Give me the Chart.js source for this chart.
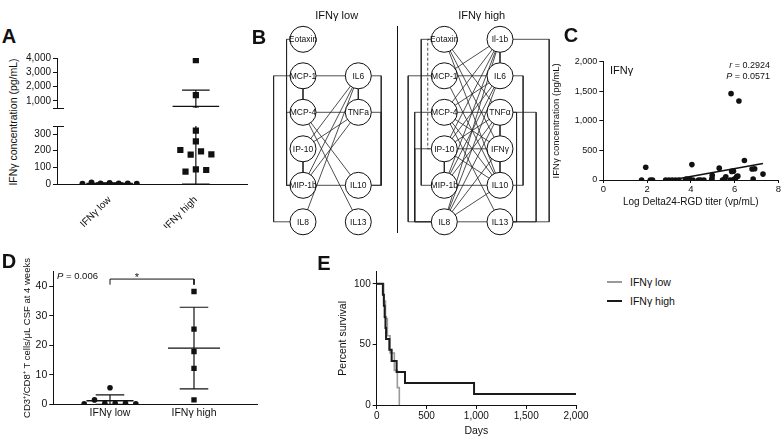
<!DOCTYPE html>
<html><head><meta charset="utf-8">
<script src="https://cdn.jsdelivr.net/npm/chart.js@4.4.1/dist/chart.umd.min.js"></script>
<style>
body{margin:0;width:784px;height:440px;background:#fff;position:relative;overflow:hidden;font-family:'Liberation Sans',Arial,sans-serif;color:#111}
canvas{position:absolute}
.t{position:absolute;white-space:nowrap;line-height:1}
.sw{position:absolute;height:2px;width:15px}
</style></head><body>
<script>
/* ─── DATA ─────────────────────────────────────────── */
const groups=['IFNγ low','IFNγ high'];

// A – IFNγ concentration (pg/mL), in left-to-right plotting order
const aLow=[2,9,3,6,3,3,2];
const aHigh=[3850,1400,320,256,204,176,196,178,74,88,84];
const aTopTicks=[1000,2000,3000,4000];
const aBotTicks=[0,100,200,300];

// B – correlation networks (column lists, row order top→bottom)
const lowLeft=['Eotaxin','MCP-1','MCP-4','IP-10','MIP-1b','IL8'];
const lowRight=[null,'IL6','TNFa',null,'IL10','IL13'];
const lowEdges=[['MCP-1','MCP-4'],['IP-10','MIP-1b'],['IL6','TNFa'],['MCP-1','IL6'],['MCP-4','TNFa'],['MIP-1b','IL10'],
  ['IP-10','IL6'],['IP-10','TNFa'],['MIP-1b','IL6'],['MIP-1b','TNFa'],['IL8','IL6'],['MCP-4','IL10'],['MCP-4','IL13']];
const lowLoops=[['Eotaxin','MIP-1b',1],['MCP-4','MIP-1b',1],['MCP-1','IL8',3],['IL6','IL10',2],['TNFa','IL10',2]];
const highLeft=['Eotaxin','MCP-1','MCP-4','IP-10','MIP-1b','IL8'];
const highRight=['Il-1b','IL6','TNFα','IFNγ','IL10','IL13'];
const highEdges=[['Il-1b','IL6'],['TNFα','IFNγ'],['IFNγ','IL10'],['IP-10','MIP-1b'],
  ['MCP-1','IL6'],['MCP-4','TNFα'],['IP-10','IFNγ'],['MIP-1b','IL10'],['IL8','IL13'],
  ['Il-1b','MCP-1'],['Il-1b','MCP-4'],['Il-1b','IP-10'],['Il-1b','MIP-1b'],['Il-1b','IL8'],
  ['Eotaxin','TNFα'],['Eotaxin','IFNγ'],['Eotaxin','IL10'],['MCP-1','IL10'],
  ['MCP-4','IL6'],['MCP-4','IFNγ'],['MCP-4','IL10'],['MCP-4','IL13'],
  ['IP-10','IL6'],['IP-10','TNFα'],['IP-10','IL10'],['MIP-1b','IL6'],['MIP-1b','TNFα'],
  ['IL8','IL6'],['IL8','TNFα'],['IL8','IFNγ'],['IL8','IL10']];
const highLoops=[['Eotaxin','IP-10',1,'dash'],['Eotaxin','MIP-1b',2],['MCP-4','IL8',3],['IP-10','IL8',3],['MCP-1','IL8',4],
  ['TNFα','IL13',1],['IL6','IL10',2],['TNFα','IL13',4],['Il-1b','IL13',6]];

// C – log titer vs IFNγ
const cTiter=[1.75,1.94,2.15,2.25,2.85,3.0,3.15,3.3,3.45,3.75,3.8,3.9,3.95,4.05,4.1,4.35,4.45,4.6,4.95,4.97,
  4.98,5.3,5.45,5.55,5.6,5.8,5.84,5.87,5.95,5.97,6.05,6.1,6.15,6.2,6.45,6.8,6.85,6.92,7.3];
const cIfng=[0,215,0,0,0,0,0,0,0,0,15,0,10,260,0,0,0,0,0,30,
  80,200,0,20,55,0,1460,145,150,10,30,60,65,1335,330,185,15,190,100];
const cFitX=[3.1,7.3];
const cFitY=[0,280];

// D – CD3+/CD8+ T cells/µL CSF at 4 weeks
const dLow=[0.2,1.5,0.3,5.6,0.3,0.3,0.2];
const dHigh=[38.3,25.5,17.9,12.2,1.5];
const dBracket=42.5;

// E – Kaplan–Meier
const eLowDays=[0,70,88,107,134,177,207,227];
const eLowSurv=[100,85.7,71.4,57.1,42.9,28.6,14.3,0];
const eHighDays=[0,62,72,80,88,94,127,150,200,284,977,2000];
const eHighSurv=[100,90.9,81.8,72.7,63.6,54.5,45.5,36.4,27.3,18.2,9.1,9.1];

/* ─── HELPERS ──────────────────────────────────────── */
const INK='#111';
Chart.defaults.font.family="'Liberation Sans', Arial, sans-serif";
Chart.defaults.color=INK;

const mean=a=>a.reduce((s,v)=>s+v,0)/a.length;
const sd=a=>{const m=mean(a);return Math.sqrt(a.reduce((s,v)=>s+(v-m)**2,0)/(a.length-1));};
// spread points with similar values side by side (dot-plot layout)
function swarm(vals,c,tol,gap){
  const idx=vals.map((_,i)=>i).sort((a,b)=>vals[a]-vals[b]);
  const rows=[];let cur=[];
  idx.forEach(i=>{if(cur.length&&vals[i]-vals[cur[0]]>tol){rows.push(cur);cur=[];}cur.push(i);});
  if(cur.length)rows.push(cur);
  const out=[];
  rows.forEach(r=>{r.sort((a,b)=>a-b);r.forEach((i,k)=>out[i]={x:c+(k-(r.length-1)/2)*gap,y:vals[i]});});
  return out;
}
const seg=(pts,w,o={})=>({data:pts.map(([x,y])=>({x,y})),showLine:true,pointRadius:0,borderColor:o.color||INK,
  borderWidth:w||1.2,borderDash:o.dash||[],stepped:o.stepped||false,clip:o.clip,order:o.order??1});
const dots=(pts,style,r)=>({data:pts,pointStyle:style,pointRadius:r,backgroundColor:INK,borderWidth:0,showLine:false,order:0});
function errBars(vals,c,floor,mw,cw){
  const m=mean(vals),s=sd(vals),lo=Math.max(m-s,floor),hi=m+s;
  return [seg([[c-mw,m],[c+mw,m]],1.3),seg([[c,lo],[c,hi]],1.2),seg([[c-cw,hi],[c+cw,hi]],1.2),seg([[c-cw,lo],[c+cw,lo]],1.2)];
}
function ax(o){
  return {type:'linear',display:!o.hidden,reverse:!!o.reverse,min:o.min,max:o.max,
    afterBuildTicks:o.ticks?(s=>{s.ticks=o.ticks.map(v=>({value:v}));}):undefined,
    afterFit:o.size!=null?(s=>{if(s.isHorizontal())s.height=o.size;else s.width=o.size;}):undefined,
    border:{display:true,color:INK,width:1},
    grid:{drawOnChartArea:false,drawTicks:o.tl!==0,tickLength:o.tl??4,color:INK,lineWidth:1},
    ticks:{font:{size:o.fs??10},color:INK,padding:o.pad??2,autoSkip:false,maxRotation:o.rot??0,minRotation:o.rot??0,
      callback:o.cb||(v=>v.toLocaleString('en-US'))},
    title:{display:!!o.title,text:o.title||'',font:{size:o.tfs??10},color:INK,padding:o.tpad||{top:0,bottom:0}}};
}
function plot(box,datasets,scales,padding,plugins){
  const c=document.createElement('canvas');
  c.width=box[2];c.height=box[3];c.style.left=box[0]+'px';c.style.top=box[1]+'px';
  document.body.appendChild(c);
  return new Chart(c,{type:'scatter',data:{datasets},
    options:{responsive:false,devicePixelRatio:1,animation:false,layout:{padding},scales,
      plugins:{legend:{display:false},tooltip:{enabled:false}}},plugins:plugins||[]});
}
function txt(html,x,y,o={}){
  const d=document.createElement('div');d.className='t';d.innerHTML=html;
  d.style.left=x+'px';d.style.top=y+'px';d.style.fontSize=(o.size||10)+'px';
  if(o.bold)d.style.fontWeight='bold';
  const tx=o.anchor==='l'?'0':o.anchor==='r'?'-100%':'-50%';
  d.style.transform=`translate(${tx},-50%)`+(o.rot?' rotate(-90deg)':'');
  document.body.appendChild(d);
}

/* ─── PANEL A (broken y axis: two stacked plots) ───── */
const axisBreak={id:'axisBreak',afterDraw(ch,_,o){
  const {ctx,chartArea:a}=ch;const y=o.at==='bottom'?a.bottom:a.top;
  ctx.save();ctx.strokeStyle=INK;ctx.lineWidth=1;ctx.beginPath();ctx.moveTo(a.left-4,y+.5);ctx.lineTo(a.left+7,y+.5);ctx.stroke();ctx.restore();}};
function aSets(){
  return [dots(swarm(aLow,1,36,0.105),'circle',3),dots(swarm(aHigh,2,36,0.12),'rect',4.4),
    ...errBars(aLow,1,0,0.27,0.16),...errBars(aHigh,2,0,0.27,0.16)];
}
const aTop=plot([20,50,232,66],aSets(),
  {x:ax({hidden:true,min:0.39,max:2.6}),y:ax({min:500,max:4000,ticks:aTopTicks,size:37})},
  {left:0,top:6.7,right:2,bottom:1},[axisBreak]);
aTop.options.plugins.axisBreak={at:'bottom'};aTop.update();
const aBot=plot([20,118,232,110],aSets(),
  {x:ax({min:0.39,max:2.6,ticks:[1,2],cb:v=>groups[v-1],rot:45,tl:0,pad:10,size:44,fs:10}),
   y:ax({min:0,max:348,ticks:aBotTicks,size:37})},
  {left:0,top:8,right:2,bottom:0},[axisBreak]);
aBot.options.plugins.axisBreak={at:'top'};aBot.update();

/* ─── PANEL B (networks) ───────────────────────────── */
const nodeLabels={id:'nodeLabels',afterDatasetsDraw(ch){
  const ds=ch.data.datasets[0];const meta=ch.getDatasetMeta(0);const ctx=ch.ctx;
  ctx.save();ctx.fillStyle=INK;ctx.font="8.5px 'Liberation Sans', Arial, sans-serif";ctx.textAlign='center';ctx.textBaseline='middle';
  meta.data.forEach((el,i)=>ctx.fillText(ds.names[i],el.x,el.y+.5));ctx.restore();}};
const laneOff=l=>(10+6.5*l)/55.5;
function network(box,left,right,edges,loops,padding){
  const pos={};
  left.forEach((n,r)=>{if(n)pos[n]={x:0,y:r};});
  right.forEach((n,r)=>{if(n)pos[n]={x:1,y:r};});
  const names=Object.keys(pos);
  const nodes={data:names.map(n=>pos[n]),names,pointRadius:13,backgroundColor:'#fff',borderColor:INK,borderWidth:1,
    showLine:false,clip:false,order:0};
  const sets=[nodes];
  edges.forEach(([a,b])=>sets.push(seg([[pos[a].x,pos[a].y],[pos[b].x,pos[b].y]],0.8,{clip:false,color:'#222'})));
  loops.forEach(([a,b,l,st])=>{
    const p=pos[a],q=pos[b],x=p.x===0?-laneOff(l):1+laneOff(l);
    sets.push(seg([[p.x,p.y],[x,p.y],[x,q.y],[q.x,q.y]],0.8,{clip:false,color:'#222',dash:st?[3,2]:[]}));
  });
  return plot(box,sets,{x:ax({hidden:true,min:0,max:1}),y:ax({hidden:true,min:0,max:5,reverse:true})},padding,[nodeLabels]);
}
network([262,0,136,236],lowLeft,lowRight,lowEdges,lowLoops,{left:41,right:39.7,top:39.3,bottom:14.2});
network([400,0,160,236],highLeft,highRight,highEdges,highLoops,{left:44.3,right:60,top:39.3,bottom:14.2});
const sep=document.createElement('div');
sep.style.cssText='position:absolute;left:397px;top:26px;width:1.3px;height:207px;background:#111';
document.body.appendChild(sep);

/* ─── PANEL C ──────────────────────────────────────── */
plot([545,45,239,170],
  [dots(cTiter.map((x,i)=>({x,y:cIfng[i]})),'circle',2.8),seg(cFitX.map((x,i)=>[x,cFitY[i]]),1.6)],
  {x:ax({min:0,max:8,ticks:[0,2,4,6,8],size:35,tl:3,pad:1,fs:9.5,title:'Log Delta24-RGD titer (vp/mL)',tpad:{top:0,bottom:7}}),
   y:ax({min:0,max:2000,ticks:[0,500,1000,1500,2000],size:58.3,fs:9,title:'IFNγ concentration (pg/mL)',tfs:9.5,tpad:{top:6,bottom:0}})},
  {left:0,top:16.7,right:5.7,bottom:0});

/* ─── PANEL D ──────────────────────────────────────── */
plot([15,245,250,185],
  [dots(swarm(dLow,1,2,0.123),'circle',2.8),dots(swarm(dHigh,2,2,0.123),'rect',3.8),
   ...errBars(dLow,1,0,0.28,0.17),...errBars(dHigh,2,0,0.31,0.17),
   seg([[1,dBracket-1.9],[1,dBracket],[2,dBracket],[2,dBracket-1.9]],1)],
  {x:ax({min:0.325,max:2.75,ticks:[1,2],cb:v=>groups[v-1],tl:0,pad:3,size:25.7,fs:10.5}),
   y:ax({min:0,max:45,ticks:[0,10,20,30,40],size:38.3,fs:10.5,title:'CD3⁺/CD8⁺ T cells/μL CSF at 4 weeks',tfs:9.5,tpad:{top:7,bottom:0}})},
  {left:0,top:26.7,right:8,bottom:0});

/* ─── PANEL E ──────────────────────────────────────── */
const eSeries=[
  {name:groups[0],days:eLowDays,surv:eLowSurv,color:'#9a9a9a',w:1.6},
  {name:groups[1],days:eHighDays,surv:eHighSurv,color:'#1a1a1a',w:2}];
plot([330,260,260,180],
  eSeries.map(s=>seg(s.days.map((d,i)=>[d,s.surv[i]]),s.w,{color:s.color,stepped:true})).reverse(),
  {x:ax({min:0,max:2000,ticks:[0,500,1000,1500,2000],size:35,tl:4,pad:1,fs:10,title:'Days',tfs:10.5,tpad:{top:0,bottom:3}}),
   y:ax({min:0,max:110,ticks:[0,50,100],size:46.7,fs:10,title:'Percent survival',tfs:10.5,tpad:{top:7,bottom:0}})},
  {left:0,top:11.7,right:14,bottom:0});
eSeries.forEach((s,i)=>{
  const sw=document.createElement('div');sw.className='sw';sw.style.background=s.color;
  sw.style.left='607px';sw.style.top=(281+i*18.5)+'px';document.body.appendChild(sw);
  txt(s.name,630,282+i*18.5,{anchor:'l',size:10.5});
});

/* ─── TEXT ─────────────────────────────────────────── */
txt('A',9,36,{size:20,bold:true});
txt('B',259,37,{size:20,bold:true});
txt('C',571,35,{size:20,bold:true});
txt('D',9,261,{size:20,bold:true});
txt('E',324,263,{size:20,bold:true});
txt('IFNγ low',336.7,15,{size:11});
txt('IFNγ high',481.7,15,{size:11});
txt('IFNγ concentration (pg/mL)',13,122,{size:10.5,rot:true});
txt('IFNγ',610,70,{anchor:'l',size:11});
txt('<i>r</i> = 0.2924',770,65,{anchor:'r',size:9});
txt('<i>P</i> = 0.0571',770,75.5,{anchor:'r',size:9});
txt('<i>P</i> = 0.006',57,276,{anchor:'l',size:9.5});
txt('*',137,277,{size:11});
</script>
</body></html>
